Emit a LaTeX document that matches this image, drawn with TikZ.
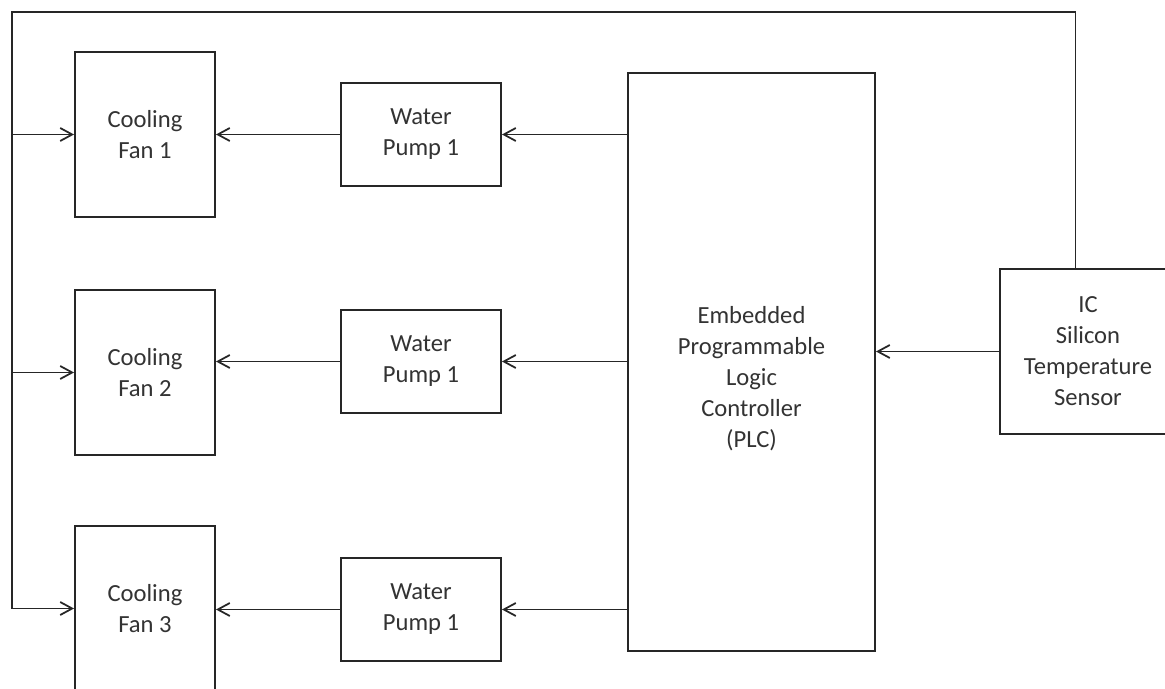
\documentclass[tikz,border=0pt]{standalone}
\usepackage{fontspec}
\setmainfont{Carlito}
\usepackage{tikz}
\usetikzlibrary{positioning,arrows.meta}
\tikzset{
  blkbox/.style={draw=black!85, line width=1.1pt, align=center, text=black!80,
    font=\fontsize{14}{17.6}\selectfont, inner sep=2pt, fill=white},
  blkarrow/.style={-{Straight Barb[length=2.4mm, width=2.6mm, line width=1pt]}, line width=1.1pt, draw=black!85},
  blkline/.style={line width=1.1pt, draw=black!85},
}

\begin{document}
\begin{tikzpicture}
  \clip (0,0) rectangle (23.3,-13.78);
  \useasboundingbox (0,0) rectangle (23.3,-13.78);
  % fans on the left
  \node[blkbox, minimum width=28mm, minimum height=33mm] (fan1) at (2.9,-2.69) {Cooling\\Fan 1};
  \node[blkbox, minimum width=28mm, minimum height=33mm] (fan2) at (2.9,-7.45) {Cooling\\Fan 2};
  \node[blkbox, minimum width=28mm, minimum height=33mm] (fan3) at (2.9,-12.17) {Cooling\\Fan 3};
  % pumps
  \node[blkbox, minimum width=32mm, minimum height=20.6mm] (pump1) at (8.42,-2.69) {Water\\Pump 1};
  \node[blkbox, minimum width=32mm, minimum height=20.6mm] (pump2) at (8.42,-7.23) {Water\\Pump 1};
  \node[blkbox, minimum width=32mm, minimum height=20.6mm] (pump3) at (8.42,-12.19) {Water\\Pump 1};
  \node[blkbox, minimum width=49.4mm, minimum height=115.6mm] (plc) at (15.03,-7.24) {\rule{0pt}{10.2mm}Embedded\\Programmable\\Logic\\Controller\\(PLC)};
  \node[blkbox, minimum width=35.2mm, minimum height=33mm] (sensor) at (21.76,-7.03) {IC\\Silicon\\Temperature\\Sensor};
  % control path
  \foreach \n in {1,2,3} {
    \draw[blkarrow] (plc.west |- pump\n.east) -- (pump\n.east);
    \draw[blkarrow] (pump\n.west) -- (pump\n.west -| fan\n.east);
  }
  \draw[blkarrow] (sensor.west) -- (plc.east |- sensor.west);
  % feedback loop
  \coordinate (tapR) at (21.51,-0.24);
  \coordinate (tapL) at (0.24,-0.24);
  \draw[blkline] (sensor.north -| tapR) -- (tapR) -- (tapL) -- (tapL |- fan3.west);
  \foreach \n in {1,2,3} \draw[blkarrow] (tapL |- fan\n.west) -- (fan\n.west);
\end{tikzpicture}
\end{document}
